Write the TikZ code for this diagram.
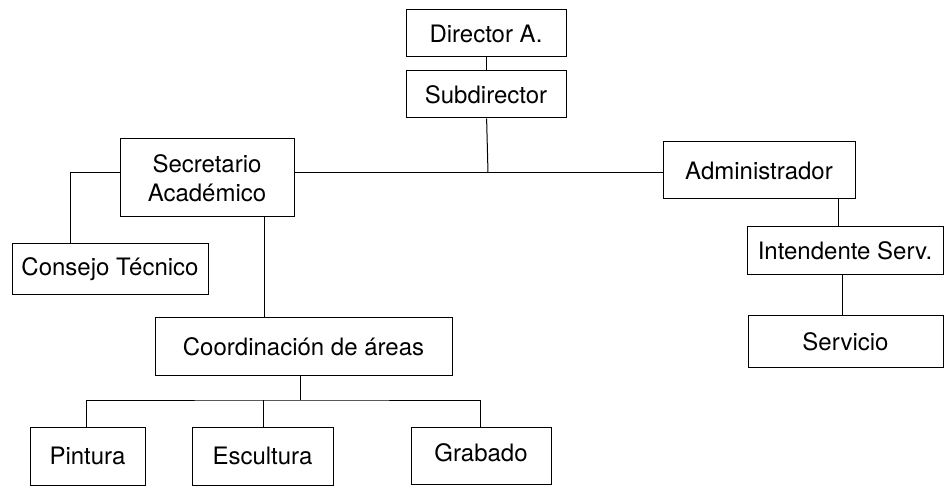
\documentclass[tikz,border=0pt]{standalone}
\usepackage{fontspec}
\setmainfont{TeX Gyre Heros}
\usepackage{tikz}
\usetikzlibrary{positioning,calc}

\begin{document}
\begin{tikzpicture}[x=1pt,y=-1pt,line width=1pt,
    box/.style={draw, rectangle, inner sep=0pt, font=\fontsize{24}{29}\selectfont, align=center}]
  \useasboundingbox (0,0) rectangle (945,486);

  % upper levels
  \node[box, minimum width=160, minimum height=47] (director) at (486,33.5) {Director A.};
  \node[box, minimum width=160, minimum height=47] (subdir) at (486,94.5) {Subdirector};
  \node[box, minimum width=174, minimum height=78] (secretario) at (207,178) {Secretario\\Académico};
  \node[box, minimum width=192, minimum height=57] (admin) at (759,170.5) {Administrador};

  % left branch
  \node[box, minimum width=196, minimum height=51] (consejo) at (110,269.5) {Consejo Técnico};
  \node[box, minimum width=297, minimum height=57] (coord) at (303.5,346.5) {Coordinación de áreas};
  \node[box, minimum width=115, minimum height=58] (pintura) at (87.5,456) {\raisebox{-4pt}{Pintura}};
  \node[box, minimum width=141, minimum height=58] (escultura) at (262.5,456) {\raisebox{-3pt}{Escultura}};
  \node[box, minimum width=140, minimum height=57] (grabado) at (481,455.5) {\raisebox{6pt}{Grabado}};

  % right branch
  \node[box, minimum width=196, minimum height=48] (intend) at (845,251) {Intendente Serv.};
  \node[box, minimum width=195, minimum height=51] (servicio) at (845.5,341.5) {Servicio};

  \coordinate (top) at (488,173);
  \coordinate (left) at (70,173);
  \coordinate (bus) at (300,400);

  \draw (director) -- (subdir);
  \draw (subdir) -- (top);
  \draw (secretario.east |- top) -- (admin.west |- top);
  \draw (secretario.west |- left) -- (left) -- (left |- consejo.north);
  \draw (secretario.south -| 264,0) -- (coord.north -| 264,0);
  \draw (coord.south -| bus) -- (bus);
  \draw (pintura.north -| 86,0) |- (bus) -| (grabado.north -| 480,0);
  \draw (escultura.north -| 263,0) -- (bus -| 263,0);
  \draw (admin.south -| 838,0) -- (intend.north -| 838,0);
  \draw (intend.south -| 842,0) -- (servicio.north -| 842,0);
\end{tikzpicture}
\end{document}
